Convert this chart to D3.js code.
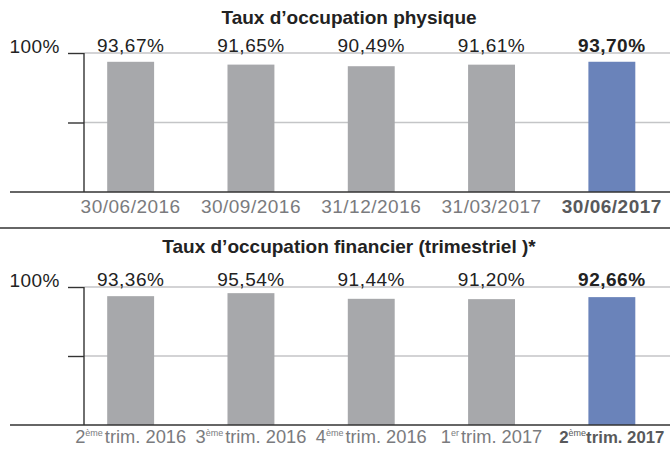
<!DOCTYPE html>
<html>
<head>
<meta charset="utf-8">
<script src="https://cdn.jsdelivr.net/npm/d3@7"></script>
<style>
  body { margin: 0; background: #fff; }
  svg { display: block; font-family: "Liberation Sans", Arial, Helvetica, sans-serif; }
</style>
</head>
<body>
<div id="chart"></div>
<script>
// data
const physDates = ["30/06/2016", "30/09/2016", "31/12/2016", "31/03/2017", "30/06/2017"];
const physValues = [93.67, 91.65, 90.49, 91.61, 93.70];

const finOrdinals = ["2", "3", "4", "1", "2"];
const finSuffixes = ["ème", "ème", "ème", "er", "ème"];
const finQuarters = ["trim. 2016", "trim. 2016", "trim. 2016", "trim. 2017", "trim. 2017"];
const finValues = [93.36, 95.54, 91.44, 91.20, 92.66];

const yTicks = [50, 100];
const titles = ["Taux d’occupation physique", "Taux d’occupation financier (trimestriel )*"];

const width = 670, height = 452;
const fr = d3.formatLocale({decimal: ",", thousands: " ", grouping: [3], currency: ["", " €"]});
const pct = v => fr.format(".2f")(v) + "%";

const svg = d3.select("#chart").append("svg")
  .attr("width", width)
  .attr("height", height);

const x = d3.scaleBand()
  .domain(d3.range(5))
  .range([70.5, 672])
  .paddingInner(0.61)
  .paddingOuter(0.305);

function drawPanel(panel) {
  const g = svg.append("g");
  const y = d3.scaleLinear().domain([0, 100]).range([panel.base, panel.top]);
  const last = panel.values.length - 1;

  g.append("text")
    .attr("x", 349)
    .attr("y", panel.titleY)
    .attr("text-anchor", "middle")
    .attr("font-size", "19px")
    .attr("font-weight", "bold")
    .attr("fill", "#222")
    .text(panel.title);

  // gridlines
  g.selectAll("line.grid")
    .data(yTicks)
    .enter()
    .append("line")
      .attr("class", "grid")
      .attr("x1", 84).attr("x2", width)
      .attr("y1", d => y(d)).attr("y2", d => y(d))
      .style("stroke", "#c4c5c7")
      .style("stroke-width", 1.3);

  // y axis ticks + line
  const yAxis = d3.axisLeft(y).tickValues(yTicks).tickSize(16).tickFormat("");
  const ax = g.append("g").attr("transform", "translate(84,0)").call(yAxis);
  ax.select(".domain").remove();
  ax.selectAll(".tick line").style("stroke", "#333").style("stroke-width", 1.4);
  g.append("line")
    .attr("x1", 84).attr("x2", 84)
    .attr("y1", y(100)).attr("y2", panel.base)
    .style("stroke", "#333").style("stroke-width", 1.4);

  g.append("text")
    .attr("x", 60)
    .attr("y", y(100) - 0.5)
    .attr("text-anchor", "end")
    .attr("font-size", "19px")
    .attr("letter-spacing", "0.5px")
    .attr("fill", "#222")
    .text("100%");

  g.selectAll("rect")
    .data(panel.values)
    .enter()
    .append("rect")
      .attr("x", (d, i) => x(i))
      .attr("width", x.bandwidth())
      .attr("y", d => y(d))
      .attr("height", d => panel.base - y(d))
      .style("fill", (d, i) => i === last ? "#6a83ba" : "#a7a8ab");

  g.selectAll("text.val")
    .data(panel.values)
    .enter()
    .append("text")
      .attr("class", "val")
      .attr("x", (d, i) => x(i) + x.bandwidth() / 2)
      .attr("y", y(100) - 1.5)
      .attr("text-anchor", "middle")
      .attr("font-size", "19px")
      .attr("letter-spacing", "0.5px")
      .attr("font-weight", (d, i) => i === last ? "bold" : "normal")
      .attr("fill", "#222")
      .text(d => pct(d));

  // baseline
  g.append("line")
    .attr("x1", 10).attr("x2", width)
    .attr("y1", panel.base).attr("y2", panel.base)
    .style("stroke", "#333").style("stroke-width", 1.5);

  const labels = g.selectAll("text.cat")
    .data(panel.values)
    .enter()
    .append("text")
      .attr("class", "cat")
      .attr("x", (d, i) => x(i) + x.bandwidth() / 2)
      .attr("y", panel.base + panel.labelDy)
      .attr("text-anchor", "middle")
      .attr("font-weight", (d, i) => i === last ? "bold" : "normal")
      .attr("fill", (d, i) => i === last ? "#58595b" : "#7a7b7e");
  panel.label(labels, last);
}

drawPanel({
  title: titles[0], titleY: 24, top: 53, base: 192, labelDy: 21,
  values: physValues,
  label: sel => sel.attr("font-size", "19px").attr("letter-spacing", "0.5px").text((d, i) => physDates[i])
});

// separator
svg.append("line")
  .attr("x1", 0).attr("x2", width)
  .attr("y1", 228).attr("y2", 228)
  .style("stroke", "#333").style("stroke-width", 1.5);

drawPanel({
  title: titles[1], titleY: 253, top: 287, base: 425, labelDy: 18,
  values: finValues,
  label: (sel, last) => sel
    .attr("font-size", (d, i) => i === last ? "16.8px" : "18.3px")
    .each(function(d, i) {
      const t = d3.select(this);
      t.append("tspan").text(finOrdinals[i]);
      t.append("tspan").attr("font-size", "9px").attr("dy", -7).attr("font-weight", "normal").text(finSuffixes[i]);
      t.append("tspan").attr("dy", 7).attr("dx", i === last ? 0 : 2).text(finQuarters[i]);
    })
});
</script>
</body>
</html>
